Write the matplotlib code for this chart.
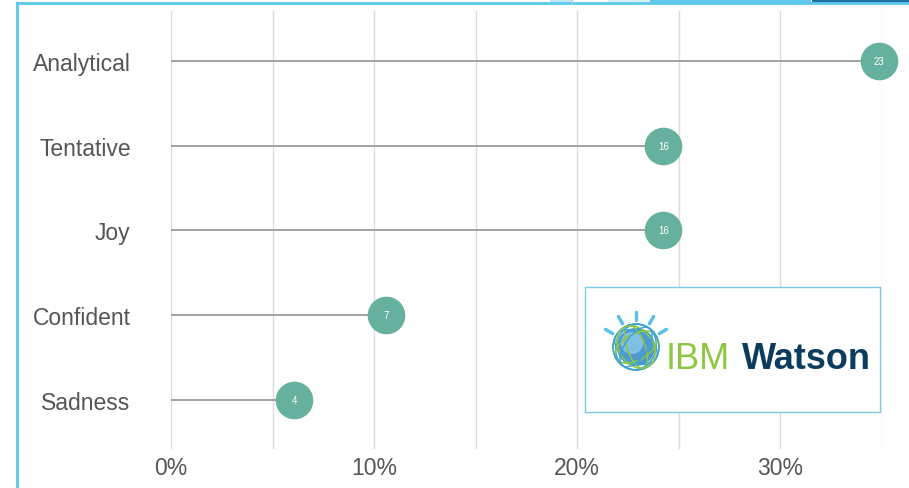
import matplotlib.pyplot as plt
from matplotlib.patches import Rectangle, Circle, Ellipse
from matplotlib.lines import Line2D

plt.rcParams['font.family'] = ['Liberation Sans', 'DejaVu Sans']

# data
categories = ['Analytical', 'Tentative', 'Joy', 'Confident', 'Sadness']
counts = [23, 16, 16, 7, 4]
major_ticks = [0, 10, 20, 30]
minor_ticks = [5, 15, 25, 35]

total = sum(counts)
pct = [c / total * 100 for c in counts]
ypos = list(range(len(categories)))[::-1]

W, H = 909, 489
fig = plt.figure(figsize=(W / 100, H / 100), dpi=100)
fig.patch.set_facecolor('white')

ax = fig.add_axes([171 / W, 1 - 450 / H, 711 / W, 438 / H])
ax.set_xlim(0, 35)
ax.set_ylim(-0.58, 4.59)

ax.set_xticks(major_ticks)
ax.set_xticks(minor_ticks, minor=True)
ax.set_xticklabels([f'{t}%' for t in major_ticks])
ax.set_yticks(ypos)
ax.set_yticklabels(categories)
ax.tick_params(axis='both', which='both', length=0, labelsize=16.5, labelcolor='#555555')
ax.tick_params(axis='y', pad=29)
ax.tick_params(axis='x', pad=5)
ax.grid(axis='x', which='both', color='#dcdcdc', lw=1)
ax.set_axisbelow(True)
for s in ax.spines.values():
    s.set_visible(False)

ax.hlines(ypos, 0, pct, color='#9a9a9a', lw=1.3, zorder=2)
ax.scatter(pct, ypos, s=680, color='#66b19d', zorder=3, clip_on=False)
for x, y, c in zip(pct, ypos, counts):
    ax.text(x, y, str(c), color='white', fontsize=7, ha='center', va='center', zorder=4)

# frame and top bar decorations
blue = '#5bc8ec'
fig.add_artist(Line2D([17 / W, 17 / W], [0, 1 - 4 / H], color=blue, lw=2, transform=fig.transFigure))
fig.add_artist(Line2D([17 / W, 1], [1 - 4 / H, 1 - 4 / H], color=blue, lw=2, transform=fig.transFigure))
for x0, x1, col in [(550, 572, '#bfe6f5'), (608, 650, '#d6eef8'), (650, 811, '#62c9ec'), (812, 909, '#2470a8')]:
    fig.add_artist(Rectangle((x0 / W, 1 - 4 / H), (x1 - x0) / W, 4 / H, color=col,
                             transform=fig.transFigure, lw=0))
fig.add_artist(Line2D([572 / W, 572 / W], [1 - 5 / H, 1], color='#9fd8ef', lw=1, transform=fig.transFigure))

# IBM Watson logo box
lg = fig.add_axes([585 / W, 1 - 413 / H, 295 / W, 125 / H])
lg.set_xlim(0, 295)
lg.set_ylim(125, 0)
lg.set_xticks([])
lg.set_yticks([])
for s in lg.spines.values():
    s.set_color('#7ccbe3')
    s.set_linewidth(1)

cx, cy, R = 51, 60, 23
lg.add_patch(Circle((cx, cy), R * 0.8, color='#3f8fc9', alpha=0.9))
lg.add_patch(Circle((cx - 4, cy - 4), R * 0.45, color='#8cc8ea', alpha=0.8))
for i, (h, ang, col) in enumerate([(46, 0, '#8dc63f'), (30, 30, '#3aa3dc'), (18, 70, '#8dc63f'),
                                   (40, 110, '#3aa3dc'), (26, 150, '#8dc63f'), (46, 90, '#3aa3dc'),
                                   (34, 55, '#8dc63f'), (22, 125, '#3aa3dc')]):
    lg.add_patch(Ellipse((cx, cy), 2 * R, h, angle=ang, fill=False, ec=col, lw=1.1))
import math
for a in [150, 120, 90, 60, 30]:
    r = math.radians(a)
    lg.plot([cx + 1.17 * R * math.cos(r), cx + 1.53 * R * math.cos(r)],
            [cy - 1.17 * R * math.sin(r), cy - 1.53 * R * math.sin(r)],
            color='#5bc0e8', lw=2.5, solid_capstyle='round')

lg.text(81, 81, 'IBM', fontsize=26, color='#8dc63f', va='baseline', ha='left')
lg.text(157, 81, 'Watson', fontsize=26, color='#0b3c5d', fontweight='bold', va='baseline', ha='left')

fig.savefig('out.png', dpi=100)
